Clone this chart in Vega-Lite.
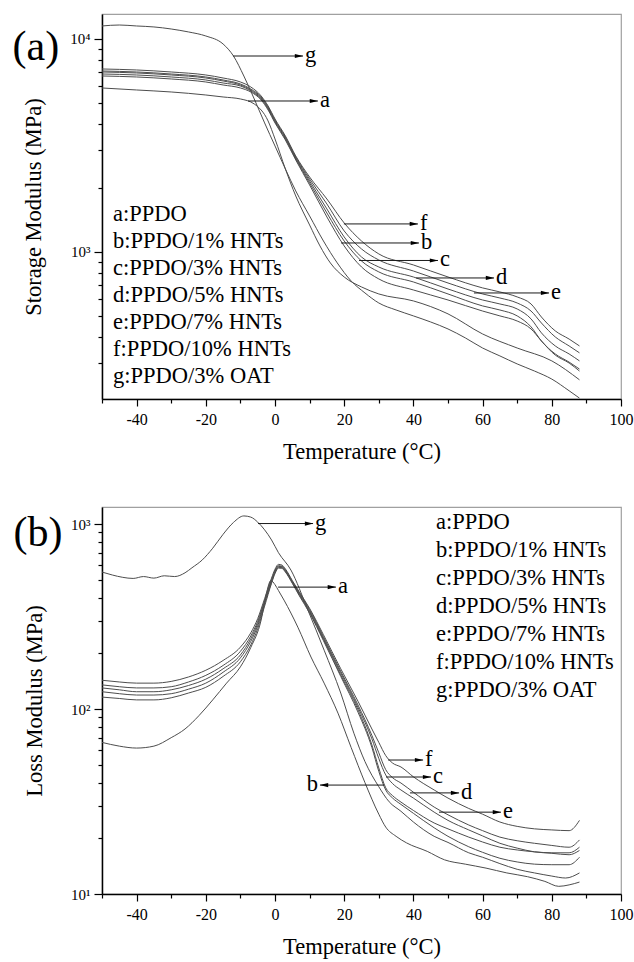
{
  "$schema": "https://vega.github.io/schema/vega-lite/v6.json",
  "padding": {"left": 12, "top": 13, "right": 2, "bottom": 0},
  "spacing": 42,
  "resolve": {"scale": {"x": "independent", "y": "independent"}},
  "config": {
    "font": "Liberation Serif, Times New Roman, DejaVu Serif, serif",
    "view": {"stroke": "#a0a0a0", "strokeWidth": 1.2},
    "style": {"guide-label": {"font": "Liberation Serif, Times New Roman, DejaVu Serif, serif"}, "guide-title": {"font": "Liberation Serif, Times New Roman, DejaVu Serif, serif"}},
    "axis": {"labelFont": "Liberation Serif, Times New Roman, DejaVu Serif, serif", "titleFont": "Liberation Serif, Times New Roman, DejaVu Serif, serif", "labelColor": "#000", "titleColor": "#000", "domainColor": "#000", "tickColor": "#000", "domainWidth": 1.5, "tickWidth": 1.2, "grid": false, "titleFontWeight": "normal", "labelFontSize": 16, "titleFontSize": 22.5, "labelPadding": 4, "labelOverlap": false, "labelBound": false, "labelFlush": false},
    "text": {"font": "Liberation Serif, Times New Roman, DejaVu Serif, serif", "fontSize": 22.5, "color": "#000"}
  },
  "datasets": {
    "storage": [
      {"s":"a","T":-50,"E":5888},{"s":"a","T":-40,"E":5762},{"s":"a","T":-30,"E":5638},{"s":"a","T":-20,"E":5458},{"s":"a","T":-15,"E":5342},{"s":"a","T":-10,"E":5228},{"s":"a","T":-6,"E":4953},{"s":"a","T":-2,"E":4121},{"s":"a","T":0,"E":3393},{"s":"a","T":3,"E":2453},{"s":"a","T":6,"E":1832},{"s":"a","T":10,"E":1339},{"s":"a","T":13,"E":1067},{"s":"a","T":16,"E":888},{"s":"a","T":20,"E":763},{"s":"a","T":25,"E":685},{"s":"a","T":30,"E":635},{"s":"a","T":40,"E":589},{"s":"a","T":50,"E":512},{"s":"a","T":60,"E":412},{"s":"a","T":70,"E":354},{"s":"a","T":80,"E":308},{"s":"a","T":88,"E":251},
      {"s":"g","T":-50,"E":11510},{"s":"g","T":-45,"E":11630},{"s":"g","T":-40,"E":11510},{"s":"g","T":-35,"E":11390},{"s":"g","T":-30,"E":11140},{"s":"g","T":-25,"E":10790},{"s":"g","T":-20,"E":10330},{"s":"g","T":-15,"E":9470},{"s":"g","T":-12,"E":8320},{"s":"g","T":-9,"E":6700},{"s":"g","T":-6,"E":5228},{"s":"g","T":-3,"E":4034},{"s":"g","T":0,"E":3145},{"s":"g","T":3,"E":2453},{"s":"g","T":6,"E":1934},{"s":"g","T":10,"E":1476},{"s":"g","T":14,"E":1126},{"s":"g","T":18,"E":888},{"s":"g","T":22,"E":731},{"s":"g","T":26,"E":642},{"s":"g","T":30,"E":576},{"s":"g","T":35,"E":534},{"s":"g","T":40,"E":501},{"s":"g","T":45,"E":469},{"s":"g","T":50,"E":435},{"s":"g","T":55,"E":395},{"s":"g","T":60,"E":354},{"s":"g","T":65,"E":325},{"s":"g","T":70,"E":298},{"s":"g","T":75,"E":276},{"s":"g","T":80,"E":253},{"s":"g","T":85,"E":223},{"s":"g","T":88,"E":206},
      {"s":"f","T":-50,"E":7230},{"s":"f","T":-40,"E":7152},{"s":"f","T":-30,"E":6999},{"s":"f","T":-20,"E":6776},{"s":"f","T":-15,"E":6559},{"s":"f","T":-10,"E":6282},{"s":"f","T":-7,"E":5952},{"s":"f","T":-4,"E":5400},{"s":"f","T":-2,"E":4847},{"s":"f","T":0,"E":4211},{"s":"f","T":3,"E":3505},{"s":"f","T":6,"E":2823},{"s":"f","T":10,"E":2249},{"s":"f","T":15,"E":1773},{"s":"f","T":20,"E":1368},{"s":"f","T":25,"E":1126},{"s":"f","T":30,"E":979},{"s":"f","T":40,"E":869},{"s":"f","T":50,"E":763},{"s":"f","T":60,"E":678},{"s":"f","T":65,"E":649},{"s":"f","T":70,"E":615},{"s":"f","T":74,"E":570},{"s":"f","T":77,"E":495},{"s":"f","T":81,"E":426},{"s":"f","T":85,"E":390},{"s":"f","T":88,"E":362},
      {"s":"b","T":-50,"E":7075},{"s":"b","T":-40,"E":6999},{"s":"b","T":-30,"E":6849},{"s":"b","T":-20,"E":6631},{"s":"b","T":-15,"E":6419},{"s":"b","T":-10,"E":6148},{"s":"b","T":-7,"E":5824},{"s":"b","T":-4,"E":5342},{"s":"b","T":-2,"E":4795},{"s":"b","T":0,"E":4166},{"s":"b","T":3,"E":3467},{"s":"b","T":6,"E":2793},{"s":"b","T":10,"E":2201},{"s":"b","T":15,"E":1680},{"s":"b","T":20,"E":1255},{"s":"b","T":25,"E":1033},{"s":"b","T":30,"E":917},{"s":"b","T":40,"E":814},{"s":"b","T":50,"E":715},{"s":"b","T":60,"E":635},{"s":"b","T":65,"E":608},{"s":"b","T":70,"E":576},{"s":"b","T":74,"E":528},{"s":"b","T":77,"E":464},{"s":"b","T":81,"E":399},{"s":"b","T":85,"E":362},{"s":"b","T":88,"E":336},
      {"s":"c","T":-50,"E":6999},{"s":"c","T":-40,"E":6924},{"s":"c","T":-30,"E":6776},{"s":"c","T":-20,"E":6559},{"s":"c","T":-15,"E":6350},{"s":"c","T":-10,"E":6082},{"s":"c","T":-7,"E":5762},{"s":"c","T":-4,"E":5284},{"s":"c","T":-2,"E":4744},{"s":"c","T":0,"E":4121},{"s":"c","T":3,"E":3430},{"s":"c","T":6,"E":2763},{"s":"c","T":10,"E":2154},{"s":"c","T":15,"E":1592},{"s":"c","T":20,"E":1176},{"s":"c","T":25,"E":947},{"s":"c","T":30,"E":850},{"s":"c","T":40,"E":763},{"s":"c","T":50,"E":670},{"s":"c","T":60,"E":595},{"s":"c","T":65,"E":570},{"s":"c","T":70,"E":540},{"s":"c","T":74,"E":485},{"s":"c","T":77,"E":417},{"s":"c","T":81,"E":362},{"s":"c","T":85,"E":332},{"s":"c","T":88,"E":308},
      {"s":"d","T":-50,"E":6849},{"s":"d","T":-40,"E":6776},{"s":"d","T":-30,"E":6631},{"s":"d","T":-20,"E":6419},{"s":"d","T":-15,"E":6214},{"s":"d","T":-10,"E":6016},{"s":"d","T":-7,"E":5700},{"s":"d","T":-4,"E":5228},{"s":"d","T":-2,"E":4693},{"s":"d","T":0,"E":4077},{"s":"d","T":3,"E":3393},{"s":"d","T":6,"E":2733},{"s":"d","T":10,"E":2108},{"s":"d","T":15,"E":1524},{"s":"d","T":20,"E":1126},{"s":"d","T":25,"E":907},{"s":"d","T":30,"E":806},{"s":"d","T":40,"E":723},{"s":"d","T":50,"E":635},{"s":"d","T":60,"E":558},{"s":"d","T":65,"E":534},{"s":"d","T":70,"E":501},{"s":"d","T":74,"E":445},{"s":"d","T":77,"E":382},{"s":"d","T":81,"E":332},{"s":"d","T":85,"E":304},{"s":"d","T":88,"E":282},
      {"s":"e","T":-50,"E":6703},{"s":"e","T":-40,"E":6631},{"s":"e","T":-30,"E":6489},{"s":"e","T":-20,"E":6282},{"s":"e","T":-15,"E":6082},{"s":"e","T":-10,"E":5888},{"s":"e","T":-7,"E":5638},{"s":"e","T":-4,"E":5171},{"s":"e","T":-2,"E":4642},{"s":"e","T":0,"E":4034},{"s":"e","T":3,"E":3356},{"s":"e","T":6,"E":2703},{"s":"e","T":10,"E":2063},{"s":"e","T":15,"E":1460},{"s":"e","T":20,"E":1067},{"s":"e","T":25,"E":850},{"s":"e","T":30,"E":747},{"s":"e","T":40,"E":663},{"s":"e","T":50,"E":595},{"s":"e","T":60,"E":528},{"s":"e","T":65,"E":501},{"s":"e","T":70,"E":474},{"s":"e","T":74,"E":435},{"s":"e","T":77,"E":382},{"s":"e","T":81,"E":328},{"s":"e","T":85,"E":301},{"s":"e","T":88,"E":276}
    ],
    "loss": [
      {"s":"f","T":-50,"E":143},{"s":"f","T":-45,"E":140},{"s":"f","T":-40,"E":138},{"s":"f","T":-35,"E":138},{"s":"f","T":-30,"E":141},{"s":"f","T":-25,"E":149},{"s":"f","T":-20,"E":162},{"s":"f","T":-15,"E":183},{"s":"f","T":-10,"E":216},{"s":"f","T":-7,"E":258},{"s":"f","T":-5,"E":308},{"s":"f","T":-3,"E":395},{"s":"f","T":-1,"E":510},{"s":"f","T":0,"E":570},{"s":"f","T":1,"E":605},{"s":"f","T":2,"E":600},{"s":"f","T":3,"E":572},{"s":"f","T":5,"E":495},{"s":"f","T":7,"E":430},{"s":"f","T":10,"E":350},{"s":"f","T":14,"E":252},{"s":"f","T":19,"E":165},{"s":"f","T":24,"E":110},{"s":"f","T":28,"E":78},{"s":"f","T":30,"E":66},{"s":"f","T":32,"E":56},{"s":"f","T":34,"E":51},{"s":"f","T":36.4,"E":48.6},{"s":"f","T":40,"E":43},{"s":"f","T":46,"E":36.5},{"s":"f","T":50,"E":33},{"s":"f","T":56,"E":29},{"s":"f","T":60,"E":27},{"s":"f","T":65,"E":24.5},{"s":"f","T":70,"E":23.2},{"s":"f","T":75,"E":22.5},{"s":"f","T":80,"E":22.2},{"s":"f","T":85,"E":22},{"s":"f","T":88,"E":25},
      {"s":"c","T":-50,"E":135},{"s":"c","T":-45,"E":132},{"s":"c","T":-40,"E":130},{"s":"c","T":-35,"E":130},{"s":"c","T":-30,"E":132},{"s":"c","T":-25,"E":140},{"s":"c","T":-20,"E":152},{"s":"c","T":-15,"E":172},{"s":"c","T":-10,"E":205},{"s":"c","T":-7,"E":248},{"s":"c","T":-5,"E":298},{"s":"c","T":-3,"E":385},{"s":"c","T":-1,"E":500},{"s":"c","T":0,"E":560},{"s":"c","T":1,"E":595},{"s":"c","T":2,"E":592},{"s":"c","T":3,"E":565},{"s":"c","T":5,"E":490},{"s":"c","T":7,"E":425},{"s":"c","T":10,"E":345},{"s":"c","T":14,"E":246},{"s":"c","T":19,"E":160},{"s":"c","T":24,"E":105},{"s":"c","T":28,"E":72},{"s":"c","T":30,"E":58},{"s":"c","T":32,"E":47},{"s":"c","T":34,"E":42.5},{"s":"c","T":36.4,"E":39.8},{"s":"c","T":40,"E":35.5},{"s":"c","T":46,"E":29.5},{"s":"c","T":50,"E":26.8},{"s":"c","T":56,"E":23.6},{"s":"c","T":60,"E":22},{"s":"c","T":65,"E":20.3},{"s":"c","T":70,"E":19.4},{"s":"c","T":75,"E":18.8},{"s":"c","T":80,"E":18.3},{"s":"c","T":85,"E":17.9},{"s":"c","T":88,"E":19.6},
      {"s":"d","T":-50,"E":130},{"s":"d","T":-45,"E":127},{"s":"d","T":-40,"E":124},{"s":"d","T":-35,"E":124},{"s":"d","T":-30,"E":127},{"s":"d","T":-25,"E":134},{"s":"d","T":-20,"E":145},{"s":"d","T":-15,"E":165},{"s":"d","T":-10,"E":196},{"s":"d","T":-7,"E":240},{"s":"d","T":-5,"E":290},{"s":"d","T":-3,"E":378},{"s":"d","T":-1,"E":492},{"s":"d","T":0,"E":552},{"s":"d","T":1,"E":590},{"s":"d","T":2,"E":588},{"s":"d","T":3,"E":560},{"s":"d","T":5,"E":486},{"s":"d","T":7,"E":420},{"s":"d","T":10,"E":340},{"s":"d","T":14,"E":242},{"s":"d","T":19,"E":157},{"s":"d","T":24,"E":102},{"s":"d","T":28,"E":69},{"s":"d","T":30,"E":54},{"s":"d","T":32,"E":44},{"s":"d","T":34,"E":39.5},{"s":"d","T":36.4,"E":36.5},{"s":"d","T":40,"E":33},{"s":"d","T":46,"E":27.7},{"s":"d","T":50,"E":25},{"s":"d","T":56,"E":22.2},{"s":"d","T":60,"E":20.6},{"s":"d","T":65,"E":18.8},{"s":"d","T":70,"E":17.7},{"s":"d","T":75,"E":16.9},{"s":"d","T":80,"E":16.6},{"s":"d","T":85,"E":16.3},{"s":"d","T":88,"E":17.2},
      {"s":"b","T":-50,"E":124},{"s":"b","T":-45,"E":121},{"s":"b","T":-40,"E":119},{"s":"b","T":-35,"E":119},{"s":"b","T":-30,"E":121},{"s":"b","T":-25,"E":128},{"s":"b","T":-20,"E":138},{"s":"b","T":-15,"E":158},{"s":"b","T":-10,"E":189},{"s":"b","T":-7,"E":232},{"s":"b","T":-5,"E":282},{"s":"b","T":-3,"E":370},{"s":"b","T":-1,"E":485},{"s":"b","T":0,"E":545},{"s":"b","T":1,"E":583},{"s":"b","T":2,"E":582},{"s":"b","T":3,"E":555},{"s":"b","T":5,"E":482},{"s":"b","T":7,"E":415},{"s":"b","T":10,"E":335},{"s":"b","T":14,"E":238},{"s":"b","T":19,"E":153},{"s":"b","T":24,"E":99},{"s":"b","T":28,"E":64},{"s":"b","T":30,"E":48},{"s":"b","T":32,"E":37.5},{"s":"b","T":34,"E":34},{"s":"b","T":36.4,"E":31.4},{"s":"b","T":40,"E":28.3},{"s":"b","T":46,"E":24.2},{"s":"b","T":50,"E":22.5},{"s":"b","T":56,"E":20.3},{"s":"b","T":60,"E":19.1},{"s":"b","T":65,"E":17.9},{"s":"b","T":70,"E":17.3},{"s":"b","T":75,"E":16.9},{"s":"b","T":80,"E":16.7},{"s":"b","T":85,"E":16.7},{"s":"b","T":88,"E":17.9},
      {"s":"e","T":-50,"E":116},{"s":"e","T":-45,"E":114},{"s":"e","T":-40,"E":112},{"s":"e","T":-35,"E":112},{"s":"e","T":-30,"E":115},{"s":"e","T":-25,"E":122},{"s":"e","T":-20,"E":131},{"s":"e","T":-15,"E":150},{"s":"e","T":-10,"E":180},{"s":"e","T":-7,"E":222},{"s":"e","T":-5,"E":272},{"s":"e","T":-3,"E":360},{"s":"e","T":-1,"E":478},{"s":"e","T":0,"E":540},{"s":"e","T":1,"E":578},{"s":"e","T":2,"E":576},{"s":"e","T":3,"E":550},{"s":"e","T":5,"E":478},{"s":"e","T":7,"E":410},{"s":"e","T":10,"E":330},{"s":"e","T":14,"E":234},{"s":"e","T":19,"E":150},{"s":"e","T":24,"E":96},{"s":"e","T":28,"E":62},{"s":"e","T":30,"E":46},{"s":"e","T":32,"E":36.5},{"s":"e","T":34,"E":33},{"s":"e","T":36.4,"E":30.5},{"s":"e","T":40,"E":27.3},{"s":"e","T":46,"E":22.8},{"s":"e","T":50,"E":20.5},{"s":"e","T":56,"E":18},{"s":"e","T":60,"E":16.8},{"s":"e","T":65,"E":15.6},{"s":"e","T":70,"E":14.9},{"s":"e","T":75,"E":14.5},{"s":"e","T":80,"E":14.4},{"s":"e","T":85,"E":14.4},{"s":"e","T":88,"E":15.8},
      {"s":"a","T":-50,"E":66},{"s":"a","T":-45,"E":63},{"s":"a","T":-40,"E":61.5},{"s":"a","T":-35,"E":63},{"s":"a","T":-30,"E":70},{"s":"a","T":-26,"E":78},{"s":"a","T":-22,"E":92},{"s":"a","T":-18,"E":112},{"s":"a","T":-14,"E":138},{"s":"a","T":-10,"E":169},{"s":"a","T":-7,"E":215},{"s":"a","T":-4,"E":303},{"s":"a","T":-2.5,"E":420},{"s":"a","T":-1.2,"E":495},{"s":"a","T":0,"E":470},{"s":"a","T":1,"E":437},{"s":"a","T":2.6,"E":388},{"s":"a","T":6.6,"E":277},{"s":"a","T":10.4,"E":191},{"s":"a","T":14.2,"E":138},{"s":"a","T":18.2,"E":95},{"s":"a","T":22,"E":62},{"s":"a","T":26,"E":40},{"s":"a","T":30,"E":27},{"s":"a","T":32,"E":23},{"s":"a","T":35,"E":20.5},{"s":"a","T":38,"E":18.9},{"s":"a","T":44,"E":17},{"s":"a","T":49,"E":15.3},{"s":"a","T":55,"E":14.5},{"s":"a","T":61,"E":13.8},{"s":"a","T":67,"E":13},{"s":"a","T":73,"E":12.4},{"s":"a","T":78,"E":11.7},{"s":"a","T":82,"E":11},{"s":"a","T":85,"E":11.2},{"s":"a","T":88,"E":11.6},
      {"s":"g","T":-50,"E":550},{"s":"g","T":-47,"E":530},{"s":"g","T":-44,"E":515},{"s":"g","T":-41,"E":508},{"s":"g","T":-38,"E":520},{"s":"g","T":-35,"E":510},{"s":"g","T":-32,"E":525},{"s":"g","T":-29,"E":520},{"s":"g","T":-26,"E":545},{"s":"g","T":-24,"E":580},{"s":"g","T":-21,"E":640},{"s":"g","T":-18,"E":740},{"s":"g","T":-15,"E":880},{"s":"g","T":-12,"E":1020},{"s":"g","T":-9,"E":1106},{"s":"g","T":-7,"E":1090},{"s":"g","T":-5,"E":1024},{"s":"g","T":-3,"E":930},{"s":"g","T":-1,"E":820},{"s":"g","T":1,"E":700},{"s":"g","T":4.6,"E":564},{"s":"g","T":9.5,"E":343},{"s":"g","T":14.2,"E":208},{"s":"g","T":19,"E":122},{"s":"g","T":22.8,"E":74},{"s":"g","T":26,"E":52},{"s":"g","T":30,"E":38},{"s":"g","T":33,"E":31.5},{"s":"g","T":36.4,"E":28},{"s":"g","T":40,"E":24.5},{"s":"g","T":46,"E":20.5},{"s":"g","T":50,"E":19},{"s":"g","T":56,"E":16.7},{"s":"g","T":60,"E":15.8},{"s":"g","T":65,"E":14.6},{"s":"g","T":70,"E":13.6},{"s":"g","T":75,"E":13},{"s":"g","T":80,"E":12.5},{"s":"g","T":84,"E":12.2},{"s":"g","T":88,"E":13}
    ],
    "arrowsA": [
      {"lab":"g","T1":-12.1,"T2":8.1,"E":8318,"dir":"r"},
      {"lab":"a","T1":-7.8,"T2":12.4,"E":5115,"dir":"r"},
      {"lab":"f","T1":19.9,"T2":41.3,"E":1354,"dir":"r"},
      {"lab":"b","T1":19.1,"T2":41.6,"E":1102,"dir":"r"},
      {"lab":"c","T1":24.3,"T2":47.1,"E":912,"dir":"r"},
      {"lab":"d","T1":40.8,"T2":63.3,"E":755,"dir":"r"},
      {"lab":"e","T1":57.5,"T2":79.2,"E":642,"dir":"r"}
    ],
    "arrowsB": [
      {"lab":"g","T1":-4.9,"T2":11.0,"E":1006,"dir":"r"},
      {"lab":"a","T1":0.9,"T2":17.6,"E":456,"dir":"r"},
      {"lab":"f","T1":32.7,"T2":42.8,"E":53.0,"dir":"r"},
      {"lab":"c","T1":32.1,"T2":45.1,"E":42.9,"dir":"r"},
      {"lab":"d","T1":39,"T2":53.2,"E":35.2,"dir":"r"},
      {"lab":"e","T1":47.4,"T2":65.3,"E":27.7,"dir":"r"},
      {"lab":"b","T1":31.5,"T2":13.0,"E":38.8,"dir":"l"}
    ],
    "legendA": [
      {"t":"a:PPDO","T":-46.8,"E":1398},
      {"t":"b:PPDO/1% HNTs","T":-46.8,"E":1044},
      {"t":"c:PPDO/3% HNTs","T":-46.8,"E":780},
      {"t":"d:PPDO/5% HNTs","T":-46.8,"E":583},
      {"t":"e:PPDO/7% HNTs","T":-46.8,"E":435},
      {"t":"f:PPDO/10% HNTs","T":-46.8,"E":325},
      {"t":"g:PPDO/3% OAT","T":-46.8,"E":243}
    ],
    "legendB": [
      {"t":"a:PPDO","T":46.5,"E":939.6},
      {"t":"b:PPDO/1% HNTs","T":46.5,"E":663},
      {"t":"c:PPDO/3% HNTs","T":46.5,"E":467.9},
      {"t":"d:PPDO/5% HNTs","T":46.5,"E":330.3},
      {"t":"e:PPDO/7% HNTs","T":46.5,"E":233.1},
      {"t":"f:PPDO/10% HNTs","T":46.5,"E":164.5},
      {"t":"g:PPDO/3% OAT","T":46.5,"E":116.1}
    ],
    "panelA": [{"t":"(a)","T":-69.1,"E":9170}],
    "panelB": [{"t":"(b)","T":-68.5,"E":894}]
  },
  "vconcat": [
    {
      "width": 519,
      "height": 385,
      "encoding": {
        "x": {"type": "quantitative", "scale": {"domain": [-50, 100], "nice": false, "zero": false},
          "axis": {"title": "Temperature (°C)", "titlePadding": 13, "labelOverlap": false, "labelPadding": 5, "labelFont": "Liberation Serif, Times New Roman, DejaVu Serif, serif", "titleFont": "Liberation Serif, Times New Roman, DejaVu Serif, serif", "values": [-50,-40,-30,-20,-10,0,10,20,30,40,50,60,70,80,90,100],
            "labelExpr": "indexof([-40,-20,0,20,40,60,80,100], datum.value) >= 0 ? '' + datum.value : ''",
            "tickSize": {"condition": {"test": "indexof([-40,-20,0,20,40,60,80,100], datum.value) >= 0", "value": 7}, "value": 4}}},
        "y": {"type": "quantitative", "scale": {"type": "log", "domain": [204, 13100], "nice": false},
          "axis": {"title": "Storage Modulus (MPa)", "titlePadding": 24, "labelFontSize": 15, "labelOverlap": false, "labelFont": "Liberation Serif, Times New Roman, DejaVu Serif, serif", "titleFont": "Liberation Serif, Times New Roman, DejaVu Serif, serif",
            "values": [300,400,500,600,700,800,900,1000,2000,3000,4000,5000,6000,7000,8000,9000,10000],
            "labelExpr": "datum.value === 1000 ? '10³' : datum.value === 10000 ? '10⁴' : ''",
            "tickSize": {"condition": {"test": "datum.value === 1000 || datum.value === 10000", "value": 8}, "value": 4}}}
      },
      "layer": [
        {
          "data": {"name": "storage"},
          "mark": {"type": "line", "interpolate": "monotone", "color": "#4d4d4d", "strokeWidth": 1, "clip": true},
          "encoding": {"x": {"field": "T", "type": "quantitative"}, "y": {"field": "E", "type": "quantitative"}, "detail": {"field": "s"}}
        },
        {
          "data": {"name": "arrowsA"},
          "mark": {"type": "rule", "color": "#1a1a1a", "strokeWidth": 1},
          "encoding": {"x": {"field": "T1", "type": "quantitative"}, "x2": {"field": "T2"}, "y": {"field": "E", "type": "quantitative"}}
        },
        {
          "data": {"name": "arrowsA"},
          "mark": {"type": "point", "filled": true, "color": "#000", "opacity": 1, "size": 70, "shape": "M-1,-0.5L1,0L-1,0.5Z", "xOffset": -4},
          "encoding": {"x": {"field": "T2", "type": "quantitative"}, "y": {"field": "E", "type": "quantitative"}}
        },
        {
          "data": {"name": "arrowsA"},
          "mark": {"type": "text", "align": "left", "baseline": "alphabetic", "dx": 2, "dy": 6},
          "encoding": {"x": {"field": "T2", "type": "quantitative"}, "y": {"field": "E", "type": "quantitative"}, "text": {"field": "lab"}}
        },
        {
          "data": {"name": "legendA"},
          "mark": {"type": "text", "align": "left", "baseline": "alphabetic"},
          "encoding": {"x": {"field": "T", "type": "quantitative"}, "y": {"field": "E", "type": "quantitative"}, "text": {"field": "t"}}
        },
        {
          "data": {"name": "panelA"},
          "mark": {"type": "text", "align": "center", "baseline": "middle", "fontSize": 42},
          "encoding": {"x": {"field": "T", "type": "quantitative"}, "y": {"field": "E", "type": "quantitative"}, "text": {"field": "t"}}
        }
      ]
    },
    {
      "width": 519,
      "height": 387,
      "encoding": {
        "x": {"type": "quantitative", "scale": {"domain": [-50, 100], "nice": false, "zero": false},
          "axis": {"title": "Temperature (°C)", "titlePadding": 13, "labelOverlap": false, "labelPadding": 5, "labelFont": "Liberation Serif, Times New Roman, DejaVu Serif, serif", "titleFont": "Liberation Serif, Times New Roman, DejaVu Serif, serif", "values": [-50,-40,-30,-20,-10,0,10,20,30,40,50,60,70,80,90,100],
            "labelExpr": "indexof([-40,-20,0,20,40,60,80,100], datum.value) >= 0 ? '' + datum.value : ''",
            "tickSize": {"condition": {"test": "indexof([-40,-20,0,20,40,60,80,100], datum.value) >= 0", "value": 7}, "value": 4}}},
        "y": {"type": "quantitative", "scale": {"type": "log", "domain": [10, 1236], "nice": false},
          "axis": {"title": "Loss Modulus (MPa)", "titlePadding": 24, "labelFontSize": 15, "labelOverlap": false, "labelFont": "Liberation Serif, Times New Roman, DejaVu Serif, serif", "titleFont": "Liberation Serif, Times New Roman, DejaVu Serif, serif",
            "values": [10,20,30,40,50,60,70,80,90,100,200,300,400,500,600,700,800,900,1000],
            "labelExpr": "datum.value === 10 ? '10¹' : datum.value === 100 ? '10²' : datum.value === 1000 ? '10³' : ''",
            "tickSize": {"condition": {"test": "datum.value === 10 || datum.value === 100 || datum.value === 1000", "value": 8}, "value": 4}}}
      },
      "layer": [
        {
          "data": {"name": "loss"},
          "mark": {"type": "line", "interpolate": "monotone", "color": "#4d4d4d", "strokeWidth": 1, "clip": true},
          "encoding": {"x": {"field": "T", "type": "quantitative"}, "y": {"field": "E", "type": "quantitative"}, "detail": {"field": "s"}}
        },
        {
          "data": {"name": "arrowsB"},
          "mark": {"type": "rule", "color": "#1a1a1a", "strokeWidth": 1},
          "encoding": {"x": {"field": "T1", "type": "quantitative"}, "x2": {"field": "T2"}, "y": {"field": "E", "type": "quantitative"}}
        },
        {
          "data": {"name": "arrowsB"},
          "transform": [{"filter": "datum.dir === 'r'"}],
          "mark": {"type": "point", "filled": true, "color": "#000", "opacity": 1, "size": 70, "shape": "M-1,-0.5L1,0L-1,0.5Z", "xOffset": -4},
          "encoding": {"x": {"field": "T2", "type": "quantitative"}, "y": {"field": "E", "type": "quantitative"}}
        },
        {
          "data": {"name": "arrowsB"},
          "transform": [{"filter": "datum.dir === 'l'"}],
          "mark": {"type": "point", "filled": true, "color": "#000", "opacity": 1, "size": 70, "shape": "M1,-0.5L-1,0L1,0.5Z", "xOffset": 4},
          "encoding": {"x": {"field": "T2", "type": "quantitative"}, "y": {"field": "E", "type": "quantitative"}}
        },
        {
          "data": {"name": "arrowsB"},
          "transform": [{"filter": "datum.dir === 'r'"}],
          "mark": {"type": "text", "align": "left", "baseline": "alphabetic", "dx": 2, "dy": 6},
          "encoding": {"x": {"field": "T2", "type": "quantitative"}, "y": {"field": "E", "type": "quantitative"}, "text": {"field": "lab"}}
        },
        {
          "data": {"name": "arrowsB"},
          "transform": [{"filter": "datum.dir === 'l'"}],
          "mark": {"type": "text", "align": "right", "baseline": "alphabetic", "dx": -2, "dy": 6},
          "encoding": {"x": {"field": "T2", "type": "quantitative"}, "y": {"field": "E", "type": "quantitative"}, "text": {"field": "lab"}}
        },
        {
          "data": {"name": "legendB"},
          "mark": {"type": "text", "align": "left", "baseline": "alphabetic"},
          "encoding": {"x": {"field": "T", "type": "quantitative"}, "y": {"field": "E", "type": "quantitative"}, "text": {"field": "t"}}
        },
        {
          "data": {"name": "panelB"},
          "mark": {"type": "text", "align": "center", "baseline": "middle", "fontSize": 42},
          "encoding": {"x": {"field": "T", "type": "quantitative"}, "y": {"field": "E", "type": "quantitative"}, "text": {"field": "t"}}
        }
      ]
    }
  ]
}
